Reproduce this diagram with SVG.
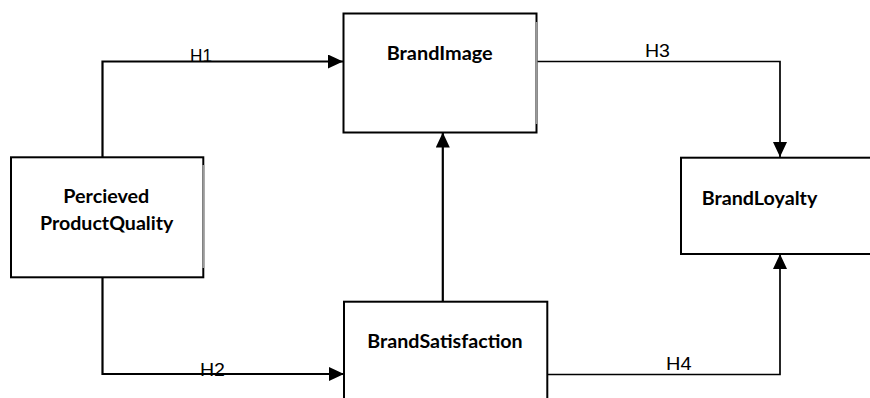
<svg xmlns="http://www.w3.org/2000/svg" width="870" height="398" viewBox="0 0 870 398">
  <style>
    .box { fill: #ffffff; stroke: #000000; stroke-width: 2; }
    .edge { stroke: #9a9a9a; stroke-width: 2; }
    .lbl { font-family: "Lato", "Liberation Sans", sans-serif; font-weight: bold; font-size: 18.5px; fill: #000000; }
    .h { font-family: "Liberation Sans", Arial, sans-serif; font-size: 18.5px; fill: #000000; }
    .conn { fill: none; stroke: #000000; stroke-width: 2.2; }
    .thin { stroke-width: 1.7; }
  </style>
  <defs>
    <marker id="arrow" viewBox="0 0 15 14" refX="15" refY="7" markerWidth="15" markerHeight="14" markerUnits="userSpaceOnUse" orient="auto">
      <path d="M0,0 L15,7 L0,14 Z" fill="#000000"/>
    </marker>
  </defs>
  <rect width="870" height="398" fill="#ffffff"/>

  <g id="connectors">
    <path class="conn" d="M102.5,157 V61.5 H343" marker-end="url(#arrow)"/>
    <path class="conn" d="M102.5,277 V374 H344" marker-end="url(#arrow)"/>
    <path class="conn thin" d="M537,61.5 H780 V157" marker-end="url(#arrow)"/>
    <path class="conn thin" d="M537,374.5 H780 V254" marker-end="url(#arrow)"/>
    <path class="conn" d="M442.8,301 V132.5" marker-end="url(#arrow)"/>
  </g>

  <g id="labels">
    <text class="h" x="190" y="62" textLength="22" lengthAdjust="spacingAndGlyphs">H1</text>
    <text class="h" x="200" y="376" textLength="25" lengthAdjust="spacingAndGlyphs">H2</text>
    <text class="h" x="645" y="57" textLength="25" lengthAdjust="spacingAndGlyphs">H3</text>
    <text class="h" x="666" y="370" textLength="25.5" lengthAdjust="spacingAndGlyphs">H4</text>
  </g>

  <g id="node-brand-image">
    <rect class="box" x="343.5" y="13.5" width="193" height="119"/>
    <line class="edge" x1="536.5" y1="22" x2="536.5" y2="124"/>
    <text class="lbl" x="386.7" y="60" textLength="106" lengthAdjust="spacingAndGlyphs">BrandImage</text>
  </g>

  <g id="node-perceived-quality">
    <rect class="box" x="11" y="157.3" width="192.3" height="120"/>
    <line class="edge" x1="203.3" y1="165" x2="203.3" y2="268"/>
    <text class="lbl" x="63.3" y="203.3" textLength="86" lengthAdjust="spacingAndGlyphs">Percieved</text>
    <text class="lbl" x="40" y="230" textLength="133.3" lengthAdjust="spacingAndGlyphs">ProductQuality</text>
  </g>

  <g id="node-brand-loyalty">
    <rect class="box" x="681" y="157.7" width="200" height="96.3"/>
    <text class="lbl" x="701.7" y="205" textLength="115.6" lengthAdjust="spacingAndGlyphs">BrandLoyalty</text>
  </g>

  <g id="node-brand-satisfaction">
    <rect class="box" x="344" y="301.7" width="203.3" height="110"/>
    <text class="lbl" x="367.3" y="348.3" textLength="155.4" lengthAdjust="spacingAndGlyphs">BrandSatisfaction</text>
  </g>
</svg>
